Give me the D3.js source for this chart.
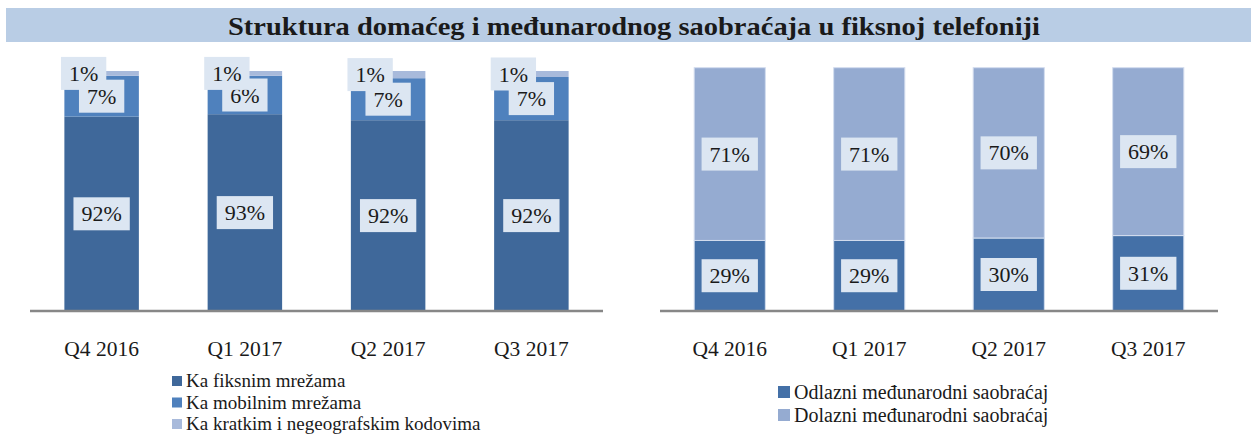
<!DOCTYPE html>
<html>
<head>
<meta charset="utf-8">
<script src="https://d3js.org/d3.v7.min.js"></script>
<style>
  body { margin: 0; background: #fff; }
  text { font-family: "Liberation Serif", "DejaVu Serif", serif; fill: #1a1a1a; }
</style>
</head>
<body>
<svg id="main_canvas" width="1254" height="435"></svg>
<script>
  "use strict";
  const WIDTH = 1254;
  const HEIGHT = 435;

  // data
  const quarters = ["Q4 2016", "Q1 2017", "Q2 2017", "Q3 2017"];
  // domestic traffic - bar segment shares as drawn
  const fiksne = [81, 82, 79.5, 79.5];
  const mobilne = [17, 16, 17.5, 18];
  const kratki = [2, 2, 3, 2.5];
  // printed labels
  const fiksneLbl = ["92%", "93%", "92%", "92%"];
  const mobilneLbl = ["7%", "6%", "7%", "7%"];
  const kratkiLbl = ["1%", "1%", "1%", "1%"];
  // international traffic
  const odlazni = [29, 29, 30, 31];
  const dolazni = [71, 71, 70, 69];

  const leftLegend = ["Ka fiksnim mrežama", "Ka mobilnim mrežama", "Ka kratkim i negeografskim kodovima"];
  const rightLegend = ["Odlazni međunarodni saobraćaj", "Dolazni međunarodni saobraćaj"];

  const C_FIX = "#3f689a";
  const C_MOB = "#4f81bd";
  const C_KRA = "#a8badb";
  const C_ODL = "#4470a7";
  const C_DOL = "#95abd1";
  const C_BOX = "#dce6f2";

  const svg = d3.select("#main_canvas");

  // Title band
  svg.append("rect")
    .attr("x", 6).attr("y", 8)
    .attr("width", WIDTH - 9).attr("height", 34)
    .attr("fill", "#b9cde5");
  svg.append("text")
    .attr("x", 634).attr("y", 35)
    .attr("text-anchor", "middle")
    .attr("font-size", 26)
    .attr("font-weight", "bold")
    .attr("textLength", 812)
    .attr("lengthAdjust", "spacingAndGlyphs")
    .text("Struktura domaćeg i međunarodnog saobraćaja u fiksnoj telefoniji");

  const BASE = 311;

  function labelBox(g, cx, cy, txt) {
    const t = g.append("text")
      .attr("x", cx).attr("y", cy + 7.5)
      .attr("text-anchor", "middle")
      .attr("font-size", 22)
      .text(txt);
    const w = t.node().getComputedTextLength() + 16;
    g.insert("rect", "text")
      .attr("x", cx - w / 2).attr("y", cy - 16.5)
      .attr("width", w).attr("height", 33)
      .attr("fill", C_BOX);
    t.raise();
  }

  function drawChart(opts) {
    const x = d3.scaleBand().domain(quarters)
      .range([opts.x0, opts.x1]).paddingInner(opts.pad).paddingOuter(opts.pad / 2);
    const y = d3.scaleLinear().domain([0, 100]).range([BASE, opts.top]);

    const rows = quarters.map((q, i) => {
      const r = { q: q };
      opts.series.forEach(s => r[s.key] = s.values[i]);
      return r;
    });
    const stack = d3.stack().keys(opts.series.map(s => s.key))(rows);

    const g = svg.append("g");
    stack.forEach((layer, li) => {
      g.append("g").selectAll("rect")
        .data(layer)
        .enter()
        .append("rect")
        .attr("x", d => x(d.data.q))
        .attr("y", d => y(d[1]))
        .attr("width", x.bandwidth())
        .attr("height", d => y(d[0]) - y(d[1]))
        .attr("fill", opts.series[li].color)
        .attr("stroke", opts.stroke || "none")
        .attr("stroke-width", 1);
    });

    // axis line
    g.append("line")
      .attr("x1", opts.x0).attr("x2", opts.x1)
      .attr("y1", BASE).attr("y2", BASE)
      .attr("stroke", "#878787").attr("stroke-width", 2.5);

    // category labels
    const ax = g.append("g").attr("transform", `translate(0,${BASE})`)
      .call(d3.axisBottom(x).tickSize(0).tickPadding(30));
    ax.select(".domain").remove();
    ax.selectAll("text")
      .attr("font-size", 21.5)
      .attr("font-family", "Liberation Serif, serif")
      .attr("fill", "#1a1a1a");

    // data labels
    const lg = svg.append("g");
    stack.forEach((layer, li) => {
      const s = opts.series[li];
      layer.forEach((d, i) => {
        const cx = x(d.data.q) + x.bandwidth() / 2 + (s.dx || 0);
        const cy = y((d[0] + d[1]) / 2);
        labelBox(lg.append("g"), cx, cy, s.labels[i]);
      });
    });

    // legend
    const leg = svg.append("g");
    opts.legend.forEach((name, i) => {
      const ly = opts.legY + i * opts.legStep;
      leg.append("rect")
        .attr("x", opts.legX).attr("y", ly - opts.sq / 2)
        .attr("width", opts.sq).attr("height", opts.sq)
        .attr("fill", opts.series[i].color);
      leg.append("text")
        .attr("x", opts.legX + opts.sq + 4).attr("y", ly + opts.legFont * 0.33)
        .attr("font-size", opts.legFont)
        .text(name);
    });
  }

  drawChart({
    x0: 30, x1: 603, top: 71, pad: 0.48,
    series: [
      { key: "fiksne", values: fiksne, labels: fiksneLbl, color: C_FIX },
      { key: "mobilne", values: mobilne, labels: mobilneLbl, color: C_MOB },
      { key: "kratki", values: kratki, labels: kratkiLbl, color: C_KRA, dx: -18 }
    ],
    legend: leftLegend,
    legX: 172, legY: 381, legStep: 21.5, sq: 10, legFont: 19
  });

  drawChart({
    x0: 660, x1: 1218, top: 67.7, pad: 0.49, stroke: "#d3ddee",
    series: [
      { key: "odlazni", values: odlazni, labels: odlazni.map(v => v + "%"), color: C_ODL },
      { key: "dolazni", values: dolazni, labels: dolazni.map(v => v + "%"), color: C_DOL }
    ],
    legend: rightLegend,
    legX: 778, legY: 392, legStep: 23, sq: 12, legFont: 20
  });
</script>
</body>
</html>
